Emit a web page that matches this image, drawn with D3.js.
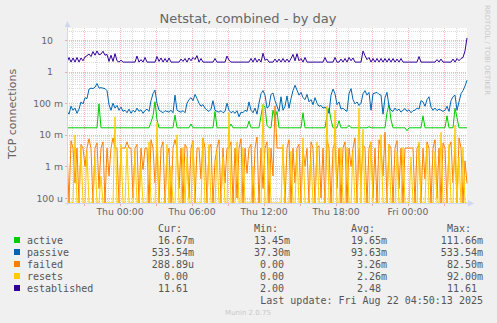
<!DOCTYPE html>
<html>
<head>
<meta charset="utf-8">
<script src="https://cdn.jsdelivr.net/npm/d3@7"></script>
<style>
html, body { margin: 0; padding: 0; background: #f0f0f0; }
svg { display: block; }
text { font-family: "DejaVu Sans", sans-serif; }
text.mono { font-family: "DejaVu Sans Mono", monospace; }
</style>
</head>
<body>
<svg id="main_chart" width="497" height="323"></svg>
<script>
// all series in milli connections, one sample every 10 minutes from Wed 19:35
const active = [
  16.67,16.67,16.67,16.67,16.67,16.67,16.67,16.67,16.67,16.67,
  16.67,16.67,16.67,16.67,16.67,16.67,95,16.67,16.67,16.67,
  16.67,16.67,16.67,16.67,16.67,16.67,16.67,16.67,16.67,16.67,
  16.67,16.67,16.67,16.67,16.67,16.67,16.67,16.67,16.67,16.67,
  16.67,16.67,25,40,111.66,30,16.67,16.67,16.67,16.67,
  16.67,16.67,16.67,16.67,42,16.67,16.67,16.67,16.67,16.67,
  16.67,16.67,22,16.67,16.67,16.67,16.67,16.67,16.67,16.67,
  16.67,16.67,16.67,16.67,55,16.67,16.67,16.67,16.67,16.67,
  16.67,16.67,22,16.67,16.67,16.67,16.67,16.67,16.67,16.67,
  16.67,27,16.67,16.67,16.67,16.67,16.67,40,90,75,
  20,16.67,16.67,60,35,55,16.67,16.67,16.67,16.67,
  16.67,16.67,16.67,16.67,16.67,16.67,16.67,16.67,50,16.67,
  16.67,16.67,16.67,16.67,16.67,16.67,16.67,16.67,16.67,16.67,
  40,70,30,16.67,16.67,16.67,28,16.67,16.67,16.67,
  16.67,20,16.67,16.67,16.67,16.67,16.67,16.67,16.67,16.67,
  16.67,18,16.67,16.67,16.67,16.67,16.67,16.67,16.67,16.67,
  50,90,30,16.67,16.67,16.67,16.67,16.67,16.67,16.67,
  13.45,16.67,16.67,16.67,16.67,16.67,16.67,16.67,40,16.67,
  16.67,16.67,16.67,16.67,16.67,16.67,16.67,16.67,16.67,16.67,
  40,16.67,16.67,16.67,70,35,16.67,16.67,16.67,16.67,
  16.67
];
const passive = [
  55,45,80,60,70,48,65,110,95,150,
  140,280,300,290,320,420,300,310,300,290,
  250,90,60,100,70,85,60,75,55,60,
  50,65,48,60,52,70,55,62,48,58,
  65,55,120,200,260,100,60,55,50,58,
  55,52,60,50,180,60,55,52,58,50,
  100,130,150,120,190,140,100,80,90,70,
  60,55,65,120,60,55,52,58,50,55,
  100,60,50,55,48,58,37.3,52,50,60,
  55,110,60,50,70,45,100,200,250,180,
  70,80,190,210,120,80,55,160,60,80,
  170,70,140,250,370,260,180,220,150,130,
  190,110,130,90,150,100,80,85,70,75,
  65,48,180,280,200,90,110,65,70,60,
  55,200,290,130,95,110,85,100,200,250,
  180,220,60,200,210,220,190,180,45,150,
  220,80,60,55,70,58,65,52,60,68,
  55,62,50,58,60,70,65,120,110,80,
  130,160,75,60,70,58,65,60,55,60,
  80,55,120,160,180,60,110,200,250,350,
  533.54
];
const failed = [
  3.8,0,6.5,3.8,0.3,3.8,0,5,3.8,1,
  3.8,7.5,3.8,0,3.8,5.5,0.2,3.8,6,0,
  3.8,0.5,3.8,8,3.8,3.8,0,3.8,3.8,3.8,
  6,3.8,3.8,0.1,3.8,5,0,3.8,0.8,3.8,
  3.8,0,7,3.8,0.3,4.5,0,3.8,6,0,
  2,3.8,0,3.8,7,3.8,0.2,3.8,0,5,
  3.8,0.1,3.8,6.5,0,3.8,3.8,0.4,8,3.8,
  0,3.8,5,0,1.5,3.8,7,0,3.8,0.3,
  3.8,3.8,6,0,3.8,0.1,3.8,7.5,0,3.8,
  0.6,3.8,5,0,3.8,8.5,0,3.8,0.2,3.8,
  6,0,3.8,0.5,82.5,3.8,3.8,3.8,3.8,0,
  3.8,7,0,3.8,0.3,3.8,5,0,3.8,1,
  3.8,0,6,3.8,0,3.8,4.5,0.1,3.8,0,
  7,3.8,0,3.8,5.5,0.2,3.8,0,3.8,6,
  0,3.8,1,3.8,8,0,3.8,0.3,5,3.8,
  0,3.8,6,0.1,3.8,0,7,3.8,0.5,12,
  0,5,3.8,0,3.8,6.5,0.2,3.8,0,3.8,
  3.8,3.8,3.8,3.8,0,3.8,5,0,3.8,0.4,
  6,3.8,0,3.8,7,0.1,3.8,0,5.5,3.8,
  0,3.8,6,0.3,3.8,0,8,3.8,0,1.5,
  0.28889
];
const resets = [
  0,0,0,0,10,0,0,4,0,0,
  3,0,0,0,2,0,0,0.5,0,0,
  0,0,0,0,37,0,0,5,0,0,
  4,0,0,0,3,0,0,1,0,0,
  0,6,0,0,0,25,0,0,0,0,
  5,0,1,0,0,10,0,0,4,0,
  2,0,0,6,0,0,0,0,8,0,
  0,5,0,0,0,3,0,0,2,0,
  0,50,0,0,0,6,0,0,4,0,
  0,0,0,1,0,0,0,0,92,0,
  0,4,0,0,0,0,0,0,5,0,
  0,0,3,0,0,3,0,0,8,0,
  0,0,2,0,0,6,0,0,0,0,
  80,0,0,0,60,0,0,4,0,0,
  4,0,0,3,0,0,70,0,15,0,
  0,0,6,0,0,0,0,10,0,0,
  0,5,0,0,0,3,0,0,4,0,
  0,0,2,0,0,0,6,0,0,0,
  5,0,0,0,3,0,0,12,0,0,
  0,5,0,0,20,0,2,0,4,0,
  0
];
const established = [
  2000,2800,2000,2700,2000,2800,2000,2700,2200,2900,
  3200,3600,3000,4300,3300,4500,3400,3600,4400,3300,
  3500,2100,3300,2100,3700,2200,2000,2300,2000,2000,
  2000,2000,2000,2000,2000,3100,2000,2400,2000,2800,
  2000,2000,2000,2000,2000,3000,2100,2700,2000,2600,
  2000,2700,2000,2000,2000,2000,2000,2500,2100,2600,
  2000,2700,2200,2800,2400,3200,2000,2600,2000,2000,
  2000,2000,2000,2000,2600,2000,2000,2000,2000,2000,
  3100,2300,2000,2000,2000,2000,2000,2000,2000,2000,
  2000,2000,2600,2000,2700,2000,2500,2000,3800,2300,
  2500,2000,2000,2000,2500,2000,2500,2000,2600,2000,
  2500,2000,2600,3500,2200,3700,2200,2600,2000,2800,
  2000,2000,2000,2000,2000,2000,2000,2000,2000,2800,
  2000,2000,2000,2000,2800,2000,2000,2500,2000,2600,
  2000,2800,2200,2700,2000,2000,2000,2000,4500,3200,
  2400,2800,2000,2600,2000,2600,2000,2600,2000,2600,
  2000,2600,2000,2600,2000,2500,2000,2600,2000,2000,
  2000,2000,2000,2000,2000,2000,3000,2000,2000,2000,
  2000,2000,2000,2000,2000,2400,2000,2500,2000,2000,
  2000,2000,2000,2500,2000,2600,2200,2600,2800,4500,
  11610
];

const series_names = ['active', 'passive', 'failed', 'resets', 'established'];
const series_colors = ['#00cc00', '#0066b3', '#ff8000', '#ffcc00', '#330099'];
const cur_labels = ['16.67m', '533.54m', '288.89u', '0.00', '11.61'];
const min_labels = ['13.45m', '37.30m', '0.00', '0.00', '2.00'];
const avg_labels = ['19.65m', '93.63m', '3.26m', '2.26m', '2.48'];
const max_labels = ['111.66m', '533.54m', '82.50m', '92.00m', '11.61'];
const y_tick_values = [1e-4, 1e-3, 1e-2, 1e-1, 1, 10];
const y_tick_labels = ['100 u', '1 m', '10 m', '100 m', '1', '10'];

(function() {
  const svg = d3.select('#main_chart');
  const all_series = [active, passive, failed, resets, established];
  const start = new Date(2025, 7, 20, 19, 35);
  const end = new Date(2025, 7, 22, 4, 55);
  const times = active.map(function(d, i) {
    return new Date(start.getTime() + i * 600000);
  });
  const left = 67, right = 467, top = 28, bottom = 203;
  const yMin = 6.95e-5;
  const minor_color = 'rgba(150,150,150,0.35)';
  const major_color = 'rgba(222,79,79,0.42)';

  const xScale = d3.scaleTime().domain([start, end]).range([left, right]);
  const yScale = d3.scaleLog().domain([yMin, 24]).range([bottom, top]);

  svg.append('rect').attr('width', 497).attr('height', 323).attr('fill', '#f0f0f0');
  svg.append('rect').attr('x', left).attr('y', top).attr('width', right - left).attr('height', bottom - top).attr('fill', '#ffffff');

  // grid
  const grid = svg.append('g').attr('id', 'grid');
  const hours = d3.timeHour.range(d3.timeHour.ceil(start), end);
  grid.selectAll('line.vgrid').data(hours).enter().append('line').attr('class', 'vgrid')
    .attr('x1', function(d) { return Math.round(xScale(d)) + 0.5; })
    .attr('x2', function(d) { return Math.round(xScale(d)) + 0.5; })
    .attr('y1', top).attr('y2', bottom)
    .attr('stroke', function(d) { return d.getHours() % 3 === 0 ? major_color : minor_color; })
    .attr('stroke-dasharray', '1,1');
  const minor_vals = [];
  for (let e = -5; e <= 1; e++) {
    for (let k = 2; k <= 9; k++) {
      const v = k * Math.pow(10, e);
      if (v > yMin && v < 24) minor_vals.push(v);
    }
  }
  grid.selectAll('line.hminor').data(minor_vals).enter().append('line').attr('class', 'hminor')
    .attr('x1', left).attr('x2', right)
    .attr('y1', function(d) { return Math.round(yScale(d)) + 0.5; })
    .attr('y2', function(d) { return Math.round(yScale(d)) + 0.5; })
    .attr('stroke', minor_color).attr('stroke-dasharray', '1,1');
  grid.selectAll('line.hmajor').data(y_tick_values).enter().append('line').attr('class', 'hmajor')
    .attr('x1', left).attr('x2', right)
    .attr('y1', function(d) { return Math.round(yScale(d)) + 0.5; })
    .attr('y2', function(d) { return Math.round(yScale(d)) + 0.5; })
    .attr('stroke', major_color).attr('stroke-dasharray', '1,1');

  // data lines
  svg.append('clipPath').attr('id', 'plot_clip').append('rect')
    .attr('x', left).attr('y', top).attr('width', right - left + 1).attr('height', bottom - top + 1);
  const line = d3.line().x(function(d, i) {
    return xScale(times[i]);
  }).y(function(d) {
    return yScale(Math.max(d * 1e-3, yMin));
  });
  svg.append('g').attr('clip-path', 'url(#plot_clip)').selectAll('path').data(all_series).enter().append('path')
    .attr('d', function(d) { return line(d); })
    .attr('fill', 'none')
    .attr('stroke', function(d, i) { return series_colors[i]; })
    .attr('stroke-width', 1);

  // axes
  const axis_color = '#cfd6f8';
  svg.append('line').attr('x1', left + 0.5).attr('x2', left + 0.5).attr('y1', bottom + 2).attr('y2', top - 3).attr('stroke', axis_color);
  svg.append('line').attr('x1', left - 2).attr('x2', right + 2).attr('y1', bottom + 0.5).attr('y2', bottom + 0.5).attr('stroke', axis_color);
  svg.append('path').attr('d', 'M64.5,27L70.5,27L67.5,21Z').attr('fill', axis_color);
  svg.append('path').attr('d', 'M468,200L468,206.5L474,203.5Z').attr('fill', axis_color);

  const major_hours = hours.filter(function(d) { return d.getHours() % 3 === 0; });
  svg.selectAll('line.xtick').data(major_hours).enter().append('line').attr('class', 'xtick')
    .attr('x1', function(d) { return Math.round(xScale(d)) + 0.5; })
    .attr('x2', function(d) { return Math.round(xScale(d)) + 0.5; })
    .attr('y1', bottom + 1).attr('y2', bottom + 3)
    .attr('stroke', major_color);
  svg.selectAll('line.ytick').data(y_tick_values).enter().append('line').attr('class', 'ytick')
    .attr('x1', left - 2).attr('x2', left)
    .attr('y1', function(d) { return Math.round(yScale(d)) + 0.5; })
    .attr('y2', function(d) { return Math.round(yScale(d)) + 0.5; })
    .attr('stroke', major_color);

  const label_hours = hours.filter(function(d) { return d.getHours() % 6 === 0; });
  const fmt = d3.timeFormat('%a %H:%M');
  svg.selectAll('text.x_label').data(label_hours).enter().append('text').attr('class', 'x_label')
    .attr('x', function(d) { return xScale(d); }).attr('y', 215)
    .attr('text-anchor', 'middle').attr('font-size', '9.3px').attr('fill', '#666')
    .text(function(d) { return fmt(d); });
  svg.selectAll('text.y_label').data(y_tick_values).enter().append('text').attr('class', 'y_label')
    .attr('x', function(d, i) { return y_tick_labels[i].indexOf(' ') > 0 ? 63 : 53; })
    .attr('y', function(d) { return yScale(d) + 3.5; })
    .attr('text-anchor', 'end').attr('font-size', '9.3px').attr('fill', '#666')
    .text(function(d, i) { return y_tick_labels[i]; });

  svg.append('text').attr('x', 248).attr('y', 23).attr('text-anchor', 'middle')
    .attr('font-size', '13px').attr('fill', '#666').text('Netstat, combined - by day');
  svg.append('text').attr('transform', 'translate(16,114) rotate(-90)').attr('text-anchor', 'middle')
    .attr('font-size', '11px').attr('fill', '#666').text('TCP connections');
  svg.append('text').attr('transform', 'translate(485,5) rotate(90)')
    .attr('font-size', '7px').attr('fill', '#c8c8c8').text('RRDTOOL / TOBI OETIKER');

  // legend
  const legend = svg.append('g').attr('id', 'legend');
  const col_ends = [194, 290, 387, 483];
  const headers = ['Cur:', 'Min:', 'Avg:', 'Max:'];
  const columns = [cur_labels, min_labels, avg_labels, max_labels];
  legend.selectAll('text.header').data(headers).enter().append('text').attr('class', 'mono header')
    .attr('x', function(d, i) { return col_ends[i] - 12; }).attr('y', 231.5)
    .attr('text-anchor', 'end').attr('font-size', '10px').attr('fill', '#555').text(function(d) { return d; });
  series_names.forEach(function(name, r) {
    const y = 243.5 + r * 12;
    legend.append('rect').attr('x', 14).attr('y', y - 6.5).attr('width', 6).attr('height', 6).attr('fill', series_colors[r]);
    legend.append('text').attr('class', 'mono').attr('x', 27).attr('y', y)
      .attr('font-size', '10px').attr('fill', '#555').text(name);
    columns.forEach(function(col, c) {
      const s = col[r];
      const has_unit = /[a-z]$/.test(s);
      legend.append('text').attr('class', 'mono').attr('x', col_ends[c] - (has_unit ? 0 : 6)).attr('y', y)
        .attr('text-anchor', 'end').attr('font-size', '10px').attr('fill', '#555').text(s);
    });
  });
  legend.append('text').attr('class', 'mono').attr('x', 483).attr('y', 303.5).attr('text-anchor', 'end')
    .attr('font-size', '10px').attr('fill', '#555').text('Last update: Fri Aug 22 04:50:13 2025');
  svg.append('text').attr('x', 248).attr('y', 315).attr('text-anchor', 'middle')
    .attr('font-size', '7px').attr('fill', '#c8c8c8').text('Munin 2.0.75');
}());
</script>
</body>
</html>
